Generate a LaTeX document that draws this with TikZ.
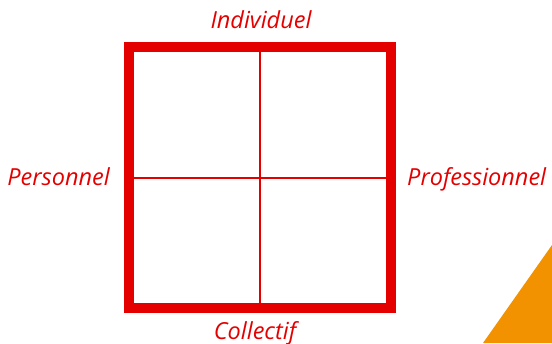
\documentclass[tikz,border=0pt]{standalone}
\usepackage{fontspec}
\setmainfont{Open Sans}
\definecolor{qred}{HTML}{E50000}
\definecolor{qorange}{HTML}{F39200}
\begin{document}
\begin{tikzpicture}[x=1pt,y=-1pt,
  lbl/.style={text=qred,font=\fontsize{23.5}{28}\selectfont\itshape,inner sep=0pt,anchor=base},
  thin line/.style={draw=qred,line width=2pt}]
\useasboundingbox (0,0) rectangle (552,343);
\fill[qorange] (483,343) -- (552,245) -- (552,343) -- cycle;
\node[draw=qred,line width=10pt,minimum width=262pt,minimum height=261pt,inner sep=0pt] (box) at (260,177.5) {};
\draw[thin line] (box.north) -- (box.south);
\draw[thin line] (box.west) -- (box.east);
\node[lbl] (ind) at (261,28) {Individuel};
\node[lbl] (col) at (255,339.5) {Collectif};
\node[lbl,anchor=base east] (pers) at (110,185) {Personnel};
\node[lbl,anchor=base west] (prof) at (407,185) {Professionnel};
\end{tikzpicture}
\end{document}
